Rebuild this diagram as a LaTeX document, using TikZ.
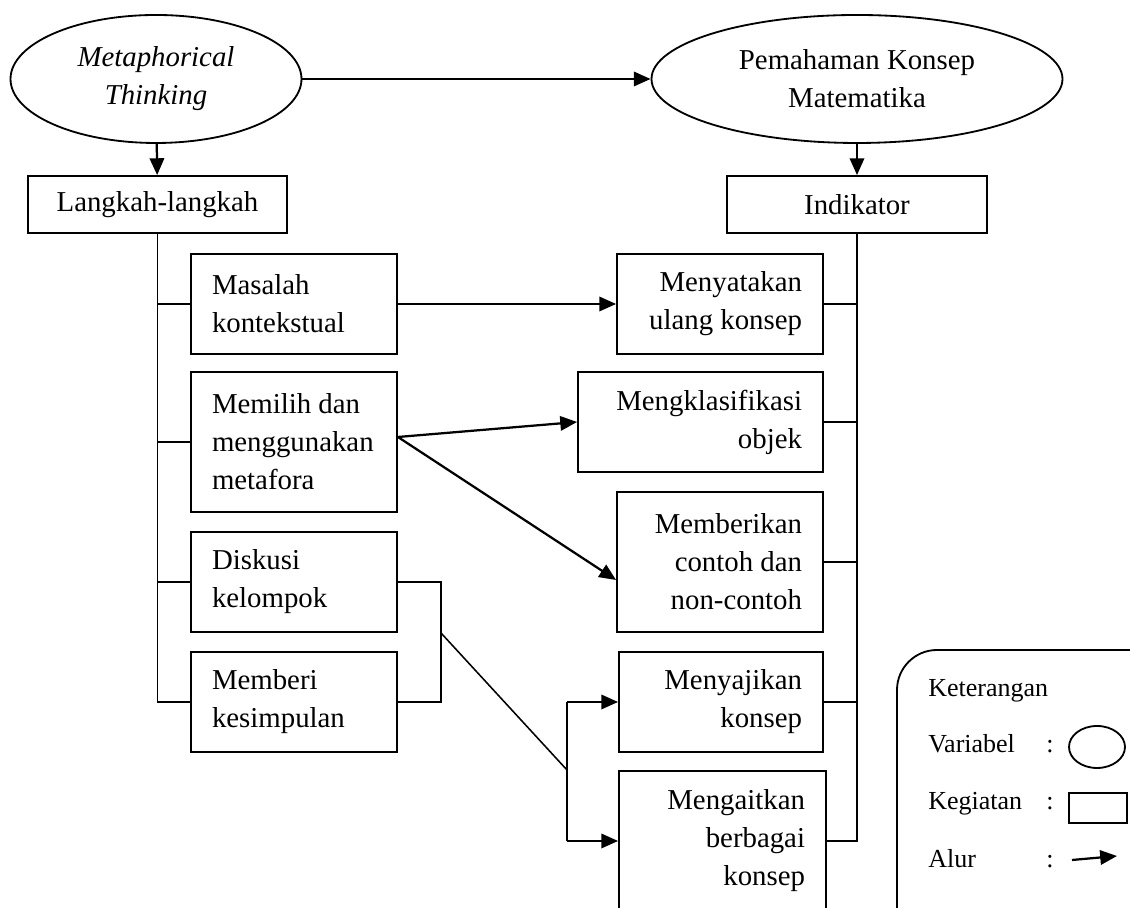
\documentclass[tikz,border=0pt]{standalone}
\usepackage{fontspec}
\setmainfont{Liberation Serif}
\usetikzlibrary{shapes.geometric,arrows.meta}

\begin{document}
\begin{tikzpicture}[font=\fontsize{20.5}{27}\selectfont,
	varnode/.style={shape=ellipse, draw, line width=1.3pt, inner sep=0pt, align=center},
	boxnode/.style={shape=rectangle, draw, line width=1.3pt, inner sep=0pt, align=center},
	stepbox/.style={shape=rectangle, draw, line width=1.3pt, inner xsep=0.525cm, inner ysep=0pt, align=flush left, text width=4.1cm, minimum height=2.5cm},
	indbox/.style={shape=rectangle, draw, line width=1.3pt, inner xsep=0.525cm, inner ysep=0pt, align=flush right, minimum height=2.5cm},
	wire/.style={line width=1.1pt},
	flow/.style={line width=1.6pt, -{Triangle[length=0.42cm, width=0.36cm]}},
	legtext/.style={anchor=base west, inner sep=0pt, font=\fontsize{18.5}{22}\selectfont}]
	\useasboundingbox (0, 0) rectangle (28.25, 22.7);
	% Variables and headers:
	\node[varnode, minimum width=7.275cm, minimum height=3.2cm, font=\fontsize{20.5}{27}\selectfont\itshape] (metaphor) at (3.9, 20.725){Metaphorical\\Thinking};
	\node[varnode, minimum width=10.275cm, minimum height=3.2cm] (pemahaman) at (21.425, 20.725){Pemahaman Konsep\\Matematika};
	\node[boxnode, minimum width=6.475cm, minimum height=1.425cm] (langkah) at (3.9375, 17.5875){Langkah-langkah};
	\node[boxnode, minimum width=6.5cm, minimum height=1.425cm] (indikator) at (21.425, 17.5875){Indikator};
	% Steps:
	\node[stepbox] (masalah) at (7.35, 15.1){Masalah\\kontekstual};
	\node[stepbox, minimum height=3.5cm] (memilih) at (7.35, 11.65){Memilih dan\\menggunakan\\metafora};
	\node[stepbox] (diskusi) at (7.35, 8.15){Diskusi\\kelompok};
	\node[stepbox] (memberi) at (7.35, 5.15){Memberi\\kesimpulan};
	% Indicators:
	\node[indbox, text width=4.1cm] (menyatakan) at (18, 15.1){Menyatakan\\ulang konsep};
	\node[indbox, text width=5.075cm] (klasifikasi) at (17.5125, 12.15){Mengklasifikasi\\objek};
	\node[indbox, text width=4.1cm, minimum height=3.5cm] (contoh) at (18, 8.65){Memberikan\\contoh dan\\non-contoh};
	\node[indbox, text width=4.05cm] (menyajikan) at (18.025, 5.15){Menyajikan\\konsep};
	\node[indbox, text width=4.125cm, minimum height=3.5cm] (mengaitkan) at (18.0625, 1.675){Mengaitkan\\berbagai\\konsep};
	% Wires:
	\draw[wire] (langkah.south) -- (langkah.south |- memberi.west) -- (memberi.west);
	\foreach \s in {masalah, memilih, diskusi}
		\draw[wire] (\s.west) -- (\s.west -| langkah.south);
	\draw[wire] (indikator.south) -- (indikator.south |- mengaitkan.east) -- (mengaitkan.east);
	\foreach \s in {menyatakan, klasifikasi, contoh, menyajikan}
		\draw[wire] (\s.east) -- (\s.east -| indikator.south);
	\coordinate (brk) at (11.025, 6.875);
	\coordinate (fork) at (14.175, 3.45);
	\draw[wire] (diskusi.east) -- (diskusi.east -| brk) -- (memberi.east -| brk) -- (memberi.east);
	\draw[wire] (brk) -- (fork);
	\draw[wire] (fork |- menyajikan.west) -- (fork |- mengaitkan.west);
	% Flows:
	\draw[flow] (metaphor) -- (pemahaman);
	\draw[flow] (metaphor) -- (langkah);
	\draw[flow] (pemahaman) -- (indikator);
	\draw[flow] (masalah) -- (menyatakan);
	\draw[flow] ([yshift=0.125cm]memilih.east) -- (klasifikasi.west);
	\draw[flow] ([yshift=0.125cm]memilih.east) -- ([yshift=-0.45cm]contoh.west);
	\draw[flow] (fork |- menyajikan.west) -- (menyajikan);
	\draw[flow] (fork |- mengaitkan.west) -- (mengaitkan);
	% Legend:
	\draw[line width=1.3pt, rounded corners=1cm] (22.425, 6.45) rectangle (29.5, -1);
	\node[legtext] (ket) at (23.2, 5.275){Keterangan};
	\node[legtext] (var) at (23.2, 3.875){Variabel};
	\node[legtext] (keg) at (23.2, 2.45){Kegiatan};
	\node[legtext] (alur) at (23.2, 1.0){Alur};
	\node[legtext, anchor=base] (colvar) at (26.25, 3.875){:};
	\node[legtext, anchor=base] (colkeg) at (26.25, 2.45){:};
	\node[legtext, anchor=base] (colalur) at (26.25, 1.0){:};
	\node[varnode, minimum width=1.4cm, minimum height=1.05cm] (legvar) at (27.425, 4.025){};
	\node[boxnode, minimum width=1.45cm, minimum height=0.75cm] (legbox) at (27.45, 2.5){};
	\coordinate (legfrom) at (26.8, 1.2);
	\coordinate (legto) at (27.925, 1.3);
	\draw[flow] (legfrom) -- (legto);
\end{tikzpicture}
\end{document}
